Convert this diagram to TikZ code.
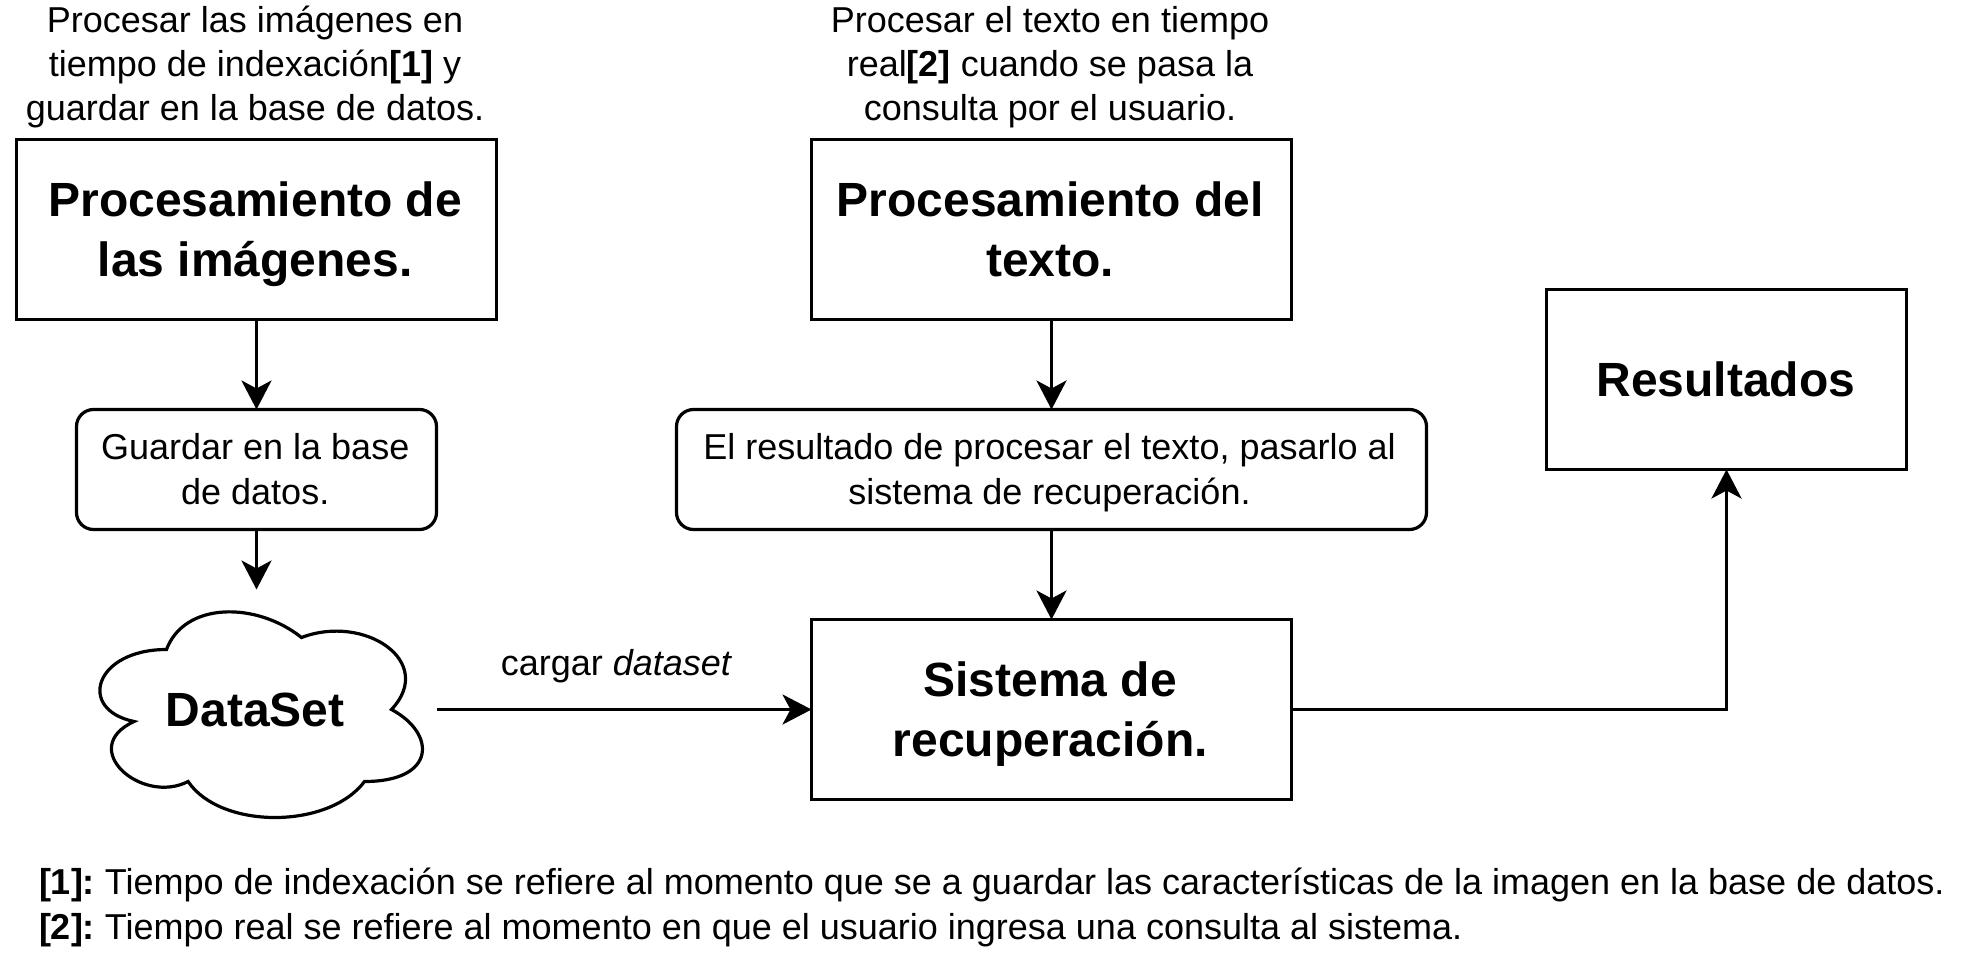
\documentclass[tikz,border=0pt]{standalone}
\usepackage{fontspec}
\setmainfont{Liberation Sans}
\usetikzlibrary{arrows.meta}
\newcommand\tln[1][2.4pt]{\rule[-13.5pt]{0pt}{60pt}\kern#1}
\newcommand\rln[1][2.5pt]{\rule[-9.9pt]{0pt}{45pt}\kern#1}
\tikzset{
  x=1pt,y=-1pt,
  every node/.style={inner sep=0pt,outer sep=0pt,align=center},
  strokeln/.style={line width=3.2pt,black,line join=miter},
  titlebox/.style={draw,strokeln,minimum width=480pt,minimum height=180pt,font=\fontsize{48}{60}\selectfont\bfseries},
  roundbox/.style={draw,strokeln,rounded corners=17pt,minimum height=120pt,font=\fontsize{36}{45}\selectfont},
  plaintext/.style={font=\fontsize{36}{44}\selectfont},
  conn/.style={strokeln,line width=3.5pt,-{Stealth[length=29pt,width=30pt,inset=8pt]}},
}
\begin{document}
\frenchspacing
\begin{tikzpicture}
\useasboundingbox (0,0) rectangle (1980,966);
% boxes
\node[titlebox] (img) at (256.5,229.5) {Procesamiento de\tln\\las imágenes.\tln};
\node[titlebox] (txt) at (1051.5,229.5) {Procesamiento del\tln\\texto.\tln};
\node[titlebox,minimum width=360pt] (res) at (1726.5,379.5) {Resultados\tln[1.2pt]};
\node[titlebox] (sis) at (1051.5,709.5) {Sistema de\tln\\recuperación.\tln};
\node[roundbox,minimum width=360pt] (guard) at (256.5,469.5) {Guardar en la base\rln\\de datos.\rln};
\node[roundbox,minimum width=750pt] (pasar) at (1051.5,469.5) {El resultado de procesar el texto, pasarlo al\rln[4pt]\\sistema de recuperación.\rln[4pt]};
% cloud
\draw[strokeln,shift={(76.5,589.5)}]
  (90,60) .. controls (18,60) and (0,120) .. (57.6,132)
  .. controls (0,158.4) and (64.8,216) .. (111.6,192)
  .. controls (144,240) and (252,240) .. (288,192)
  .. controls (360,192) and (360,144) .. (315,120)
  .. controls (360,72) and (288,24) .. (225,48)
  .. controls (180,12) and (108,12) .. (90,60) -- cycle;
\node[minimum width=360pt,minimum height=240pt,font=\fontsize{48}{60}\selectfont\bfseries] (cloud) at (256.5,709.5) {DataSet\tln};
% annotations
\node[plaintext] (a1) at (255,66.8) {Procesar las imágenes en\\tiempo de indexación\textbf{[1]} y\\guardar en la base de datos.};
\node[plaintext] (a2) at (1050,66.8) {Procesar el texto en tiempo\\real\textbf{[2]} cuando se pasa la\\consulta por el usuario.};
\node[plaintext,anchor=base] (lab) at (616.5,675) {cargar \textit{dataset}};
\node[plaintext,anchor=base west] (n1) at (39,894) {\textbf{[1]:} Tiempo de indexación se refiere al momento que se a guardar las características de la imagen en la base de datos.};
\node[plaintext,anchor=base west] (n2) at (39,939) {\textbf{[2]:} Tiempo real se refiere al momento en que el usuario ingresa una consulta al sistema.};
% connectors
\draw[conn] (img) -- (guard);
\draw[conn] (guard) -- (cloud);
\draw[conn] (txt) -- (pasar);
\draw[conn] (pasar) -- (sis);
\draw[conn] (cloud) -- (sis);
\draw[conn] (sis) -| (res);
\end{tikzpicture}
\end{document}
